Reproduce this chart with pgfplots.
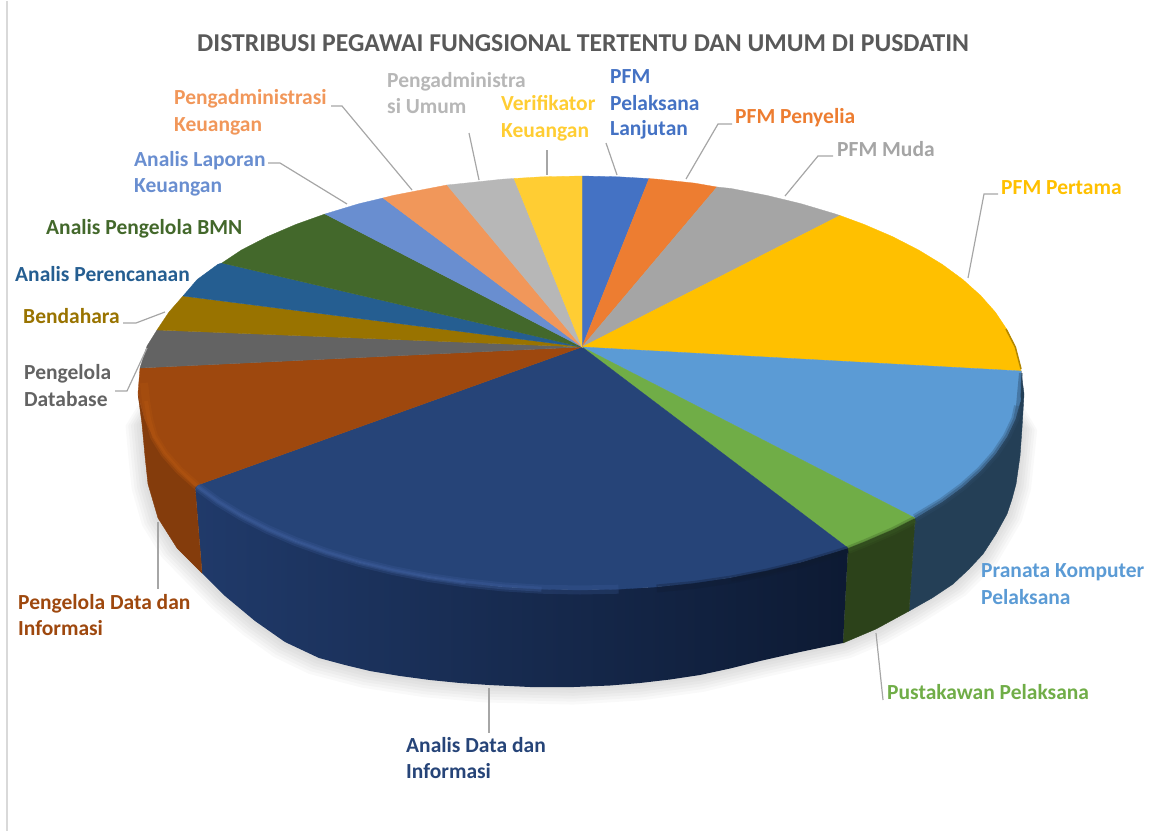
\documentclass[border=0pt]{standalone}
\usepackage{pgfplots}
\pgfplotsset{compat=1.18}
\usepackage{pgfplotstable}
\usepackage{fontspec}
\setmainfont{Carlito}
\definecolor{c1}{HTML}{4472C4}\definecolor{c2}{HTML}{ED7D31}\definecolor{c3}{HTML}{A5A5A5}
\definecolor{c4}{HTML}{FFC000}\definecolor{c5}{HTML}{5B9BD5}\definecolor{c6}{HTML}{70AD47}
\definecolor{c7}{HTML}{264478}\definecolor{c8}{HTML}{9E480E}\definecolor{c9}{HTML}{636363}
\definecolor{c10}{HTML}{997300}\definecolor{c11}{HTML}{255E91}\definecolor{c12}{HTML}{43682B}
\definecolor{c13}{HTML}{698ED0}\definecolor{c14}{HTML}{F1975A}\definecolor{c15}{HTML}{B7B7B7}
\definecolor{c16}{HTML}{FFCD33}
\definecolor{lead}{HTML}{A6A6A6}
\pgfplotstableread{
x y
200 330
142 423
145 455
148 483
158 517
177 547
202 572
225 595
255 620
285 641
319 657
370 670
430 679
489 684
574 686
640 682
700 674
760 660
842 642
876 628
909 610
953 583
983 553
1007 513
1016 483
1022 427
964 330
}\shadowcurve
\newcommand{\lab}[4]{\node[anchor=base west,inner sep=0pt,text=#1,font=\fontsize{21.5}{24}\selectfont\bfseries] at (axis cs:#2,#3) {#4};}
\newcommand{\shad}[2]{\addplot[fill=black,draw=none,opacity=.025] table[x expr=600+#1*(\thisrow{x}-600),y expr=393+#2*(\thisrow{y}-393)] {\shadowcurve} -- cycle;}
\begin{document}
\begin{tikzpicture}
\begin{axis}[hide axis,scale only axis,width=1155pt,height=830pt,
 xmin=0,xmax=1155,ymin=0,ymax=830,y dir=reverse,clip=false]
\path (axis cs:0,0) rectangle (axis cs:1155,830);
% frame
\addplot[draw=black!15,line width=2pt] coordinates {(7,0)(7,830)};
% shadow
\shad{1.006}{1.01}\shad{1.012}{1.02}\shad{1.018}{1.03}\shad{1.024}{1.04}\shad{1.03}{1.05}\shad{1.036}{1.06}
% sides
\addplot[fill={rgb,255:red,36;green,63;blue,86},draw={rgb,255:red,36;green,63;blue,86},line width=.4pt] coordinates {(1021,370)(1015.3,417.9)(1006.9,435.6)(995.4,452.8)(980.6,469.5)(962.8,485.5)(942.1,500.7)(915,517)(909,610)(932,597)(953,583)(969,568)(983,553)(996,533)(1007,513)(1012,498)(1016,483)(1020,455)(1022,427)(1024,393)} -- cycle;
\addplot[fill={rgb,255:red,44;green,66;blue,26},draw={rgb,255:red,44;green,66;blue,26},line width=.4pt] coordinates {(915,517)(892.5,528.4)(864.1,540.6)(848,547)(843,642)(876,628)(909,610)} -- cycle;
\addplot[left color={rgb,255:red,32;green,58;blue,106},middle color={rgb,255:red,25;green,46;blue,86},right color={rgb,255:red,13;green,26;blue,51},draw=none] coordinates {(848,547)(801,561.3)(731.2,576.5)(656.7,585.9)(580,589)(503.3,585.9)(428.8,576.5)(359,561.3)(295.9,540.6)(241.4,515)(195,485)(202,572)(225,595)(255,620)(285,641)(319,657)(345,664)(370,670)(400,675)(430,679)(460,682)(489,684)(530,686)(574,686)(610,684.5)(640,682)(670,678.5)(700,674)(730,667.5)(760,660)(800,651)(843,642)} -- cycle;
\addplot[fill={rgb,255:red,132;green,60;blue,12},draw={rgb,255:red,132;green,60;blue,12},line width=.4pt] coordinates {(195,485)(179.4,469.5)(164.6,452.8)(153.1,435.6)(144.7,417.9)(139.7,400)(138,393)(142,423)(145,455)(148,483)(158,517)(177,547)(202,572)} -- cycle;
% top faces
\addplot[fill=c1,draw=c1,line width=.3pt] coordinates {(582,346)(582,175)(618.5,175.8)(649,177.6)} -- cycle;
\addplot[fill=c2,draw=c2,line width=.3pt] coordinates {(582,346)(649,177.6)(656.7,178.1)(694.4,182.1)(717,186)} -- cycle;
\addplot[fill=c3,draw=c3,line width=.3pt] coordinates {(582,346)(717,186)(731.2,187.5)(766.8,194.4)(801,202.7)(833.5,212.4)(840,214.5)} -- cycle;
\addplot[fill=c4,draw=c4,line width=.3pt] coordinates {(582,346)(840,214.5)(864.1,223.4)(892.5,235.6)(918.6,249)(942.1,263.3)(962.8,278.5)(980.6,294.5)(995.4,311.2)(1006.9,328.4)(1015.3,346.1)(1021,370)} -- cycle;
\addplot[fill=c5,draw=c5,line width=.3pt] coordinates {(582,346)(1021,370)(1020.3,400)(1015.3,417.9)(1006.9,435.6)(995.4,452.8)(980.6,469.5)(962.8,485.5)(942.1,500.7)(915,517)} -- cycle;
\addplot[fill=c6,draw=c6,line width=.3pt] coordinates {(582,346)(915,517)(892.5,528.4)(864.1,540.6)(848,547)} -- cycle;
\addplot[fill=c7,draw=c7,line width=.3pt] coordinates {(582,346)(848,547)(833.5,551.6)(801,561.3)(766.8,569.6)(731.2,576.5)(694.4,581.9)(656.7,585.9)(618.5,588.2)(580,589)(541.5,588.2)(503.3,585.9)(465.6,581.9)(428.8,576.5)(393.2,569.6)(359,561.3)(326.5,551.6)(295.9,540.6)(267.5,528.4)(241.4,515)(217.9,500.7)(195,485)} -- cycle;
\addplot[fill=c8,draw=c8,line width=.3pt] coordinates {(582,346)(195,485)(179.4,469.5)(164.6,452.8)(153.1,435.6)(144.7,417.9)(139.7,400)(138,392)(140,367)} -- cycle;
\addplot[fill=c9,draw=c9,line width=.3pt] coordinates {(582,346)(140,367)(147,345)(157,329)} -- cycle;
\addplot[fill=c10,draw=c10,line width=.3pt] coordinates {(582,346)(157,329)(169,311)(183,295)} -- cycle;
\addplot[fill=c11,draw=c11,line width=.3pt] coordinates {(582,346)(183,295)(197.2,278.5)(217.9,263.3)(222,262)} -- cycle;
\addplot[fill=c12,draw=c12,line width=.3pt] coordinates {(582,346)(222,262)(241.4,249)(267.5,235.6)(295.9,223.4)(325,213)} -- cycle;
\addplot[fill=c13,draw=c13,line width=.3pt] coordinates {(582,346)(325,213)(359,202.7)(383,197)} -- cycle;
\addplot[fill=c14,draw=c14,line width=.3pt] coordinates {(582,346)(383,197)(393.2,194.4)(428.8,187.5)(447,184)} -- cycle;
\addplot[fill=c15,draw=c15,line width=.3pt] coordinates {(582,346)(447,184)(465.6,182.1)(503.3,178.1)(514,177.5)} -- cycle;
\addplot[fill=c16,draw=c16,line width=.3pt] coordinates {(582,346)(514,177.5)(541.5,175.8)(582,175)} -- cycle;
% bevels
\addplot[draw=black!50!c5,opacity=.3,line width=8pt,line join=round] coordinates {(1018,405)(1015.3,417.9)(1006.9,435.6)(995.4,452.8)(980.6,469.5)(962.8,485.5)(942.1,500.7)(915,517)};
\addplot[draw=black!50!c5,opacity=.45,line width=4pt,line join=round] coordinates {(1021,372)(1018,405)(1015.3,417.9)(1006.9,435.6)(995.4,452.8)(980.6,469.5)(962.8,485.5)(942.1,500.7)(915,517)};
\addplot[draw=black!50!c6,opacity=.3,line width=8pt,line join=round] coordinates {(915,519)(892.5,530.4)(864.1,542.6)(848,549)};
\addplot[draw=black!50!c6,opacity=.4,line width=4pt,line join=round] coordinates {(915,519)(892.5,530.4)(864.1,542.6)(848,549)};
\addplot[draw=black!60!c7,opacity=.3,line width=8pt,line join=round] coordinates {(848,549)(833.5,553.6)(801,563.3)(766.8,571.6)(731.2,578.5)(694.4,583.9)(656.7,587.5)};
\addplot[draw=black!60!c7,opacity=.4,line width=4pt,line join=round] coordinates {(848,549)(833.5,553.6)(801,563.3)(766.8,571.6)(731.2,578.5)};
\addplot[draw={rgb,255:red,62;green,94;blue,156},opacity=.25,line width=9pt,line join=round] coordinates {(197.2,485.5)(217.9,500.7)(241.4,515)(267.5,528.4)(295.9,540.6)(326.5,551.6)(359,561.3)(393.2,569.6)(428.8,576.5)(465.6,581.9)(503.3,585.9)(541.5,588.2)(580,589)(618.5,588.2)};
\addplot[draw={rgb,255:red,62;green,94;blue,156},opacity=.35,line width=5pt,line join=round] coordinates {(197.2,485.5)(217.9,500.7)(241.4,515)(267.5,528.4)(295.9,540.6)(326.5,551.6)(359,561.3)(393.2,569.6)(428.8,576.5)(465.6,581.9)(503.3,585.9)(541.5,588.2)};
\addplot[draw={rgb,255:red,62;green,94;blue,156},opacity=.4,line width=2.5pt,line join=round] coordinates {(197.2,485.5)(217.9,500.7)(241.4,515)(267.5,528.4)(295.9,540.6)(326.5,551.6)(359,561.3)(393.2,569.6)(428.8,576.5)(465.6,581.9)};
\addplot[draw={rgb,255:red,178;green,84;blue,16},opacity=.35,line width=8pt,line join=round] coordinates {(197,485)(179.4,469.5)(164.6,452.8)(154,435.6)(149,418)(146,400)(144,382)};
\addplot[draw={rgb,255:red,178;green,84;blue,16},opacity=.5,line width=4pt,line join=round] coordinates {(197,485)(179.4,469.5)(164.6,452.8)(154,435.6)(149,418)(146,400)};
\addplot[draw=black!30!c4,line width=1.5pt,line join=round] coordinates {(1006,328)(1015.3,346.1)(1021,368)};
% leaders
\addplot[draw=lead,line width=1.2pt] coordinates {(606,142)(617,174)};
\addplot[draw=lead,line width=1.2pt] coordinates {(732,123)(718,123)(686,178)};
\addplot[draw=lead,line width=1.2pt] coordinates {(833,155)(818,155)(785,195)};
\addplot[draw=lead,line width=1.2pt] coordinates {(998,193)(984,193)(968,277)};
\addplot[draw=lead,line width=1.2pt] coordinates {(547,149)(547,174)};
\addplot[draw=lead,line width=1.2pt] coordinates {(469,132)(479,179)};
\addplot[draw=lead,line width=1.2pt] coordinates {(331,105)(342,105)(412,189)};
\addplot[draw=lead,line width=1.2pt] coordinates {(268,162)(280,162)(347,203)};
\addplot[draw=lead,line width=1.2pt] coordinates {(123,322)(136,322)(165,311)};
\addplot[draw=lead,line width=1.2pt] coordinates {(115,390)(127,390)(147,347)};
\addplot[draw=lead,line width=1.2pt] coordinates {(158,521)(158,588)};
\addplot[draw=lead,line width=1.2pt] coordinates {(489,687)(489,732)};
\addplot[draw=lead,line width=1.2pt] coordinates {(876,632)(883,699)};
% labels
\node[anchor=base west,inner sep=0pt,text=black!65,font=\fontsize{25.7}{28}\selectfont\bfseries] at (axis cs:197,51) {DISTRIBUSI PEGAWAI FUNGSIONAL TERTENTU DAN UMUM DI PUSDATIN};
\lab{c1}{610}{83}{PFM}
\lab{c1}{610}{110}{Pelaksana}
\lab{c1}{610}{135}{Lanjutan}
\lab{c2}{735}{123}{PFM Penyelia}
\lab{c3}{837}{155}{PFM Muda}
\lab{c4}{1001}{193}{PFM Pertama}
\lab{c5}{981}{576}{Pranata Komputer}
\lab{c5}{981}{603}{Pelaksana}
\lab{c6}{887}{698}{Pustakawan Pelaksana}
\lab{c7}{406}{751}{Analis Data dan}
\lab{c7}{406}{777}{Informasi}
\lab{c8}{18}{608}{Pengelola Data dan}
\lab{c8}{18}{634}{Informasi}
\lab{c9}{24}{378}{Pengelola}
\lab{c9}{24}{405}{Database}
\lab{c10}{23}{322}{Bendahara}
\lab{c11}{15}{280}{Analis Perencanaan}
\lab{c12}{46}{233}{Analis Pengelola BMN}
\lab{c13}{134}{165}{Analis Laporan}
\lab{c13}{134}{191}{Keuangan}
\lab{c14}{174}{104}{Pengadministrasi}
\lab{c14}{174}{131}{Keuangan}
\lab{c15}{387}{87}{Pengadministra}
\lab{c15}{387}{113}{si Umum}
\lab{c16}{501}{110}{Verifikator}
\lab{c16}{501}{136}{Keuangan}
\end{axis}
\end{tikzpicture}
\end{document}
